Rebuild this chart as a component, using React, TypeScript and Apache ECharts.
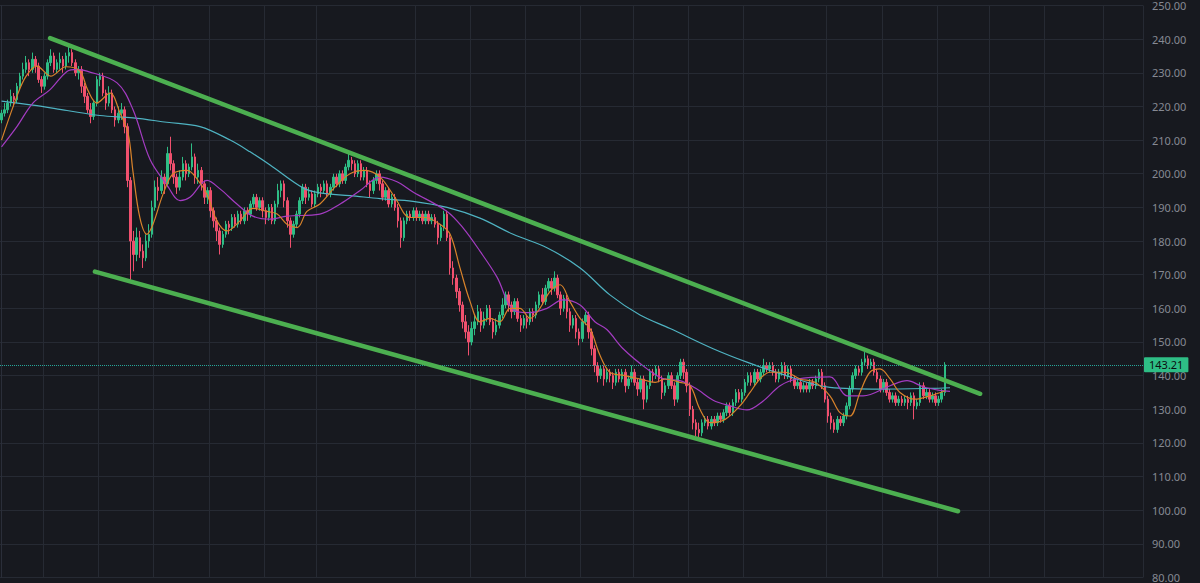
import React, { useEffect, useRef } from "react";
import * as echarts from "echarts";

// ---- data ----
const CATEGORY_COUNT = 372; // candle slots incl. empty right margin
const LAST_PRICE = 143.21;

// [open, close, low, high]
const CANDLES: number[][] = [
  [216,218,215,219],[218,219,217,221],[219,221,218,222],[221,223,220,225],[223,222,220,224],
  [222,226,221,227],[226,229,225,230],[229,231,228,233],[231,233,230,235],[233,231,229,234],
  [231,234,230,236],[234,232,230,235],[232,228,227,233],[228,226,224,229],[226,229,225,230],
  [229,233,228,234],[233,235,232,237],[235,231,230,236],[231,233,230,234],[233,234,231,236],
  [234,232,230,235],[232,235,231,236],[235,236,233,238],[236,233,232,237],[233,230,229,234],
  [230,231,228,232],[231,226,224,232],[226,223,221,227],[223,219,218,224],[219,217,215,221],
  [217,221,216,222],[221,228,220,229],[228,229,226,230],[229,224,223,230],[224,221,219,225],
  [221,224,220,226],[224,219,218,225],[219,216,214,220],[216,218,215,220],[218,219,216,221],
  [219,214,212,220],[214,198,196,215],[198,180,168,199],[180,176,171,183],[176,181,174,184],
  [181,177,175,183],[177,175,172,179],[175,180,174,182],[180,182,178,185],[182,190,181,192],
  [190,196,189,198],[196,195,192,199],[195,199,194,201],[199,197,194,200],[197,206,196,208],
  [206,203,201,211],[203,199,197,204],[199,196,194,200],[196,199,195,201],[199,203,198,205],
  [203,200,198,204],[200,202,199,203],[202,205,201,209],[205,199,197,206],[199,201,197,203],
  [201,197,195,202],[197,193,191,198],[193,195,191,196],[195,189,187,196],[189,186,184,190],
  [186,183,180,187],[183,179,176,184],[179,182,178,183],[182,185,181,186],[185,184,182,186],
  [184,187,183,188],[187,185,184,188],[185,188,184,189],[188,186,185,189],[186,189,185,190],
  [189,188,186,190],[188,191,187,192],[191,193,190,194],[193,190,189,194],[190,192,189,193],
  [192,189,187,193],[189,187,185,190],[187,190,186,191],[190,186,185,191],[186,191,185,192],
  [191,195,190,197],[195,197,193,198],[197,192,190,198],[192,186,184,193],[186,182,178,187],
  [182,185,181,186],[185,188,184,189],[188,192,187,193],[192,196,191,197],[196,193,191,197],
  [193,194,192,196],[194,191,190,195],[191,194,190,195],[194,196,193,197],[196,195,193,197],
  [195,197,194,198],[197,194,193,198],[194,196,193,197],[196,199,195,200],[199,197,196,200],
  [197,200,196,201],[200,198,197,201],[198,202,197,203],[202,204,201,206],[204,203,201,205],
  [203,200,199,204],[200,203,199,204],[203,199,198,204],[199,201,198,202],[201,197,196,202],
  [197,195,193,198],[195,198,194,199],[198,200,197,201],[200,197,195,201],[197,193,192,198],
  [193,195,192,196],[195,191,190,196],[191,193,190,194],[193,190,189,194],[190,186,184,191],
  [186,181,178,187],[181,186,180,187],[186,188,185,189],[188,187,186,189],[187,189,186,190],
  [189,187,186,190],[187,188,186,189],[188,186,185,189],[186,188,185,189],[188,186,185,189],
  [186,187,185,188],[187,185,184,188],[185,181,179,186],[181,184,180,185],[184,188,183,189],
  [188,181,180,189],[181,172,170,182],[172,169,167,174],[169,165,163,170],[165,161,159,166],
  [161,156,154,162],[156,153,151,158],[153,150,146,155],[150,154,149,156],[154,156,152,158],
  [156,159,155,161],[159,155,153,160],[155,157,154,159],[157,160,156,161],[160,156,155,161],
  [156,153,151,157],[153,155,152,157],[155,158,154,159],[158,161,157,163],[161,164,160,165],
  [164,161,159,165],[161,159,157,162],[159,162,158,163],[162,157,156,163],[157,155,153,158],
  [155,157,154,158],[157,156,154,158],[156,159,155,160],[159,158,156,160],[158,161,157,162],
  [161,164,160,165],[164,162,161,166],[162,166,161,167],[166,168,165,169],[168,166,164,169],
  [166,169,165,171],[169,164,163,170],[164,160,158,165],[160,163,159,164],[163,159,157,164],
  [159,155,153,160],[155,157,154,158],[157,153,151,158],[153,151,149,154],[151,156,150,157],
  [156,158,155,159],[158,153,151,159],[153,148,146,154],[148,143,141,149],[143,140,138,144],
  [140,142,139,143],[142,139,137,143],[139,141,138,142],[141,140,138,142],[140,138,136,141],
  [138,141,137,142],[141,139,138,142],[139,141,138,142],[141,137,135,142],[137,139,136,140],
  [139,141,138,143],[141,138,137,142],[138,136,134,139],[136,139,135,140],[139,133,130,140],
  [133,137,132,138],[137,141,136,142],[141,140,138,142],[140,142,139,143],[142,139,138,143],
  [139,135,133,140],[135,137,134,138],[137,140,136,141],[140,137,136,141],[137,133,131,138],
  [133,140,132,141],[140,144,139,145],[144,141,139,145],[141,137,135,142],[137,130,128,138],
  [130,126,124,131],[126,124,122,127],[124,123,121,126],[123,126,122,127],[126,127,125,128],
  [127,125,124,128],[125,127,124,128],[127,126,125,128],[126,128,125,129],[128,127,126,129],
  [127,129,126,130],[129,131,128,132],[131,129,128,132],[129,132,128,133],[132,135,131,136],
  [135,133,132,136],[133,135,132,136],[135,138,134,139],[138,140,137,141],[140,138,137,141],
  [138,141,137,142],[141,139,138,142],[139,141,138,142],[141,143,140,145],[143,142,141,144],
  [142,143,141,144],[143,141,140,144],[141,139,138,142],[139,141,138,142],[141,143,140,144],
  [143,140,139,144],[140,142,139,143],[142,139,138,143],[139,137,136,140],[137,138,136,139],
  [138,136,135,139],[136,137,135,138],[137,136,135,138],[136,138,135,139],[138,137,136,139],
  [137,139,136,140],[139,141,138,142],[141,137,136,142],[137,133,132,138],[133,128,126,134],
  [128,126,124,129],[126,124,123,127],[124,127,123,128],[127,126,125,128],[126,128,125,129],
  [128,131,127,132],[131,136,130,137],[136,140,135,141],[140,142,139,143],[142,141,140,143],
  [141,144,140,145],[144,145,143,147],[145,143,142,146],[143,144,142,145],[144,141,140,145],
  [141,139,138,142],[139,136,135,140],[136,138,135,139],[138,135,134,139],[135,133,132,136],
  [133,134,132,135],[134,132,131,135],[132,133,131,134],[133,132,131,134],[132,133,131,134],
  [133,132,130,134],[132,134,131,135],[134,131,127,135],[131,132,130,133],[132,137,131,138],
  [137,134,133,138],[134,135,133,136],[135,133,132,136],[133,134,132,135],[134,132,131,135],
  [132,133,131,134],[133,135,132,136],[135,143.21,134,144],
];

// moving averages: [candle index, value]
const MA_FAST: number[][] = [
  [0,210],[5,223],[8,229],[11.5,232],[16,229],[21,231.8],[25.5,230.5],[28,225],[31,221],[35.3,224],
  [38.6,218],[41.2,212],[42.8,200.5],[45,187],[47.3,182],[49.3,185],[52.5,193.8],[55.8,200],[60.4,201],
  [63.6,198.5],[66.9,193.8],[70.1,186],[73.4,183],[77.6,186],[81.8,189.7],[86.4,188.8],[89.7,188],
  [92.9,185],[96.2,184],[99.4,188.8],[103.6,191],[108.5,196],[113.4,200],[118.3,201],[123.2,199],
  [128,193],[133,187],[137.8,187],[142.7,185],[146,182],[149.2,172],[152.5,162],[155.7,156],[159,157],
  [162.2,156],[165.5,160],[168.7,160],[172,157],[175.2,160],[178.5,165],[181.8,167],[185,162],
  [188.3,157],[191.5,154],[194.8,146],[198,141],[202.9,140],[207.8,139],[212.7,138],[216,139],
  [220.8,138],[224.1,137],[227.3,130],[230.6,126],[235.5,127],[240.3,131],[243.6,135],[246.8,139],
  [250.1,141],[255,141],[259.9,139],[264.7,138],[269.6,134],[272.9,129],[276.1,128],[279.4,135],
  [282.6,141],[285.9,142],[289.2,139],[292.4,135],[297.3,133],[302.2,134],[307.1,135.5],
];
const MA_MID: number[][] = [
  [0,208],[5,214],[10.2,221],[15.8,225],[21.3,230.4],[24.6,231],[27.8,230.5],[37.6,227],[42.8,219],
  [48.3,204.3],[53.8,196.7],[58.1,192],[61.3,193],[66.9,198],[71.1,195.5],[76.6,191],[81.8,187.4],
  [87.4,186.5],[92.9,187.4],[103.6,188],[110.2,191],[116.7,195],[123.2,199],[128.7,197.6],[133.9,194.6],
  [145,188.8],[150.2,183.9],[155.7,177],[161.3,169.2],[166.5,159.6],[172,158.7],[177.5,160],[182.7,162.5],
  [188.3,161],[193.1,156],[197,153.7],[202.3,148],[210.1,142],[215.3,139.1],[220.8,138.5],[226.3,136],
  [231.6,132.7],[237.1,131],[242.6,129.8],[247.8,132.4],[253.4,137],[258.9,139],[269.6,139.6],
  [275.2,134],[280.4,134],[289.2,137],[294.7,138.5],[299.9,136.7],[305.4,135.6],[308.7,135.3],
];
const MA_SLOW: number[][] = [
  [0,221.6],[10.2,220.4],[21.3,218.8],[32,217.3],[42.8,216.6],[53.8,215.3],[64.6,214],[74.4,210],
  [80.9,206.5],[87.4,202.6],[98.1,195.8],[103.6,194.3],[113.4,193.5],[123.2,192.6],[133.9,191.8],
  [145,190],[155.7,186.8],[166.5,182],[177.5,178],[188.3,172],[198,164],[207.8,158],[217.6,154],
  [231.6,148],[242.6,144],[253.4,140.6],[269.6,136.5],[285.9,136],[302.2,136.2],[308.7,136.4],
];

// channel lines: [candle index, price]
const UPPER_LINE: number[][] = [[15.8,240.3],[318.5,134.6]];
const LOWER_LINE: number[][] = [[30.4,170.9],[311.3,99.7]];

// vertical time grid lines, at candle slot boundaries
const TIME_GRID = [14,32,50,68,86,103,135,153,171,189,206,224,242,269,287,305,322,340,359];

const BG = "#17191f";
const GRID = "#262a33";
const UP = "#2ebd85";
const DOWN = "#f0506e";

export default function App() {
  const ref = useRef<HTMLDivElement>(null);
  useEffect(() => {
    document.body.style.margin = "0";
    document.body.style.background = BG;
    const chart = echarts.init(ref.current!, undefined, { renderer: "svg" });
    const cats = Array.from({ length: CATEGORY_COUNT }, (_, i) => String(i));
    const gridSet = new Set(TIME_GRID);
    const maLine = (data: number[][], color: string) => ({
      type: "line",
      xAxisIndex: 1,
      data,
      smooth: 0.35,
      symbol: "none",
      silent: true,
      z: 3,
      lineStyle: { color, width: 1.2 },
    });
    const trend = (data: number[][]) => ({
      type: "line",
      xAxisIndex: 1,
      data,
      symbol: "none",
      silent: true,
      z: 5,
      lineStyle: { color: "#4caf50", width: 4.5, cap: "round" },
    });
    chart.setOption({
      backgroundColor: BG,
      animation: false,
      grid: { left: 0, right: 57, top: 2, bottom: 3 },
      xAxis: [
        {
          type: "category",
          data: cats,
          boundaryGap: true,
          axisLine: { show: false },
          axisTick: { show: false },
          axisLabel: { show: false },
          splitLine: {
            show: true,
            interval: (i: number) => gridSet.has(i),
            lineStyle: { color: GRID, width: 1 },
          },
        },
        { type: "value", min: -0.5, max: CATEGORY_COUNT - 0.5, show: false },
      ],
      yAxis: {
        type: "value",
        position: "right",
        min: 80,
        max: 250,
        interval: 10,
        axisLine: { show: true, lineStyle: { color: "#2a2e39" } },
        axisTick: { show: false },
        axisLabel: {
          color: "#868993",
          fontSize: 11,
          fontFamily: "Noto Sans",
          margin: 9,
          showMinLabel: true,
          showMaxLabel: true,
          formatter: (v: number) => v.toFixed(2),
        },
        splitLine: { lineStyle: { color: GRID, width: 1 } },
      },
      series: [
        {
          type: "candlestick",
          data: CANDLES,
          barWidth: 2,
          z: 2,
          itemStyle: {
            color: UP,
            color0: DOWN,
            borderColor: UP,
            borderColor0: DOWN,
            borderWidth: 1,
          },
          markLine: {
            silent: true,
            symbol: ["none", "none"],
            data: [{ yAxis: LAST_PRICE }],
            lineStyle: { color: "#26a69a", type: "dotted", width: 1, opacity: 1 },
            label: {
              position: "end",
              distance: 1,
              formatter: LAST_PRICE.toFixed(2),
              backgroundColor: UP,
              color: "#0c0e12",
              fontSize: 11,
              fontFamily: "Noto Sans",
              padding: [2, 5, 2, 5],
              borderRadius: 1,
            },
          },
        },
        maLine(MA_SLOW, "#4fb3c2"),
        maLine(MA_MID, "#a43cc2"),
        maLine(MA_FAST, "#d9832b"),
        trend(UPPER_LINE),
        trend(LOWER_LINE),
      ],
    });
    return () => chart.dispose();
  }, []);
  return (
    <div
      ref={ref}
      style={{ position: "fixed", left: 0, top: 0, width: 1200, height: 583 }}
    />
  );
}
